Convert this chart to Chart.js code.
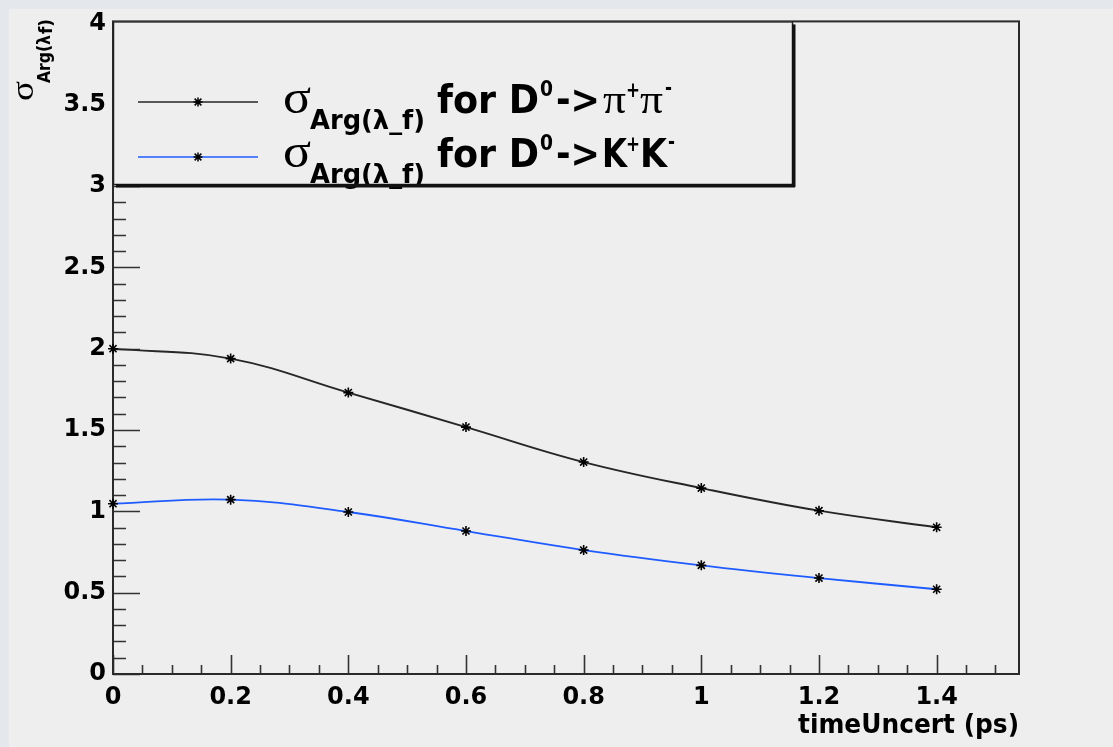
<!DOCTYPE html>
<html>
<head>
<meta charset="utf-8">
<script src="https://cdn.jsdelivr.net/npm/chart.js@4"></script>
<style>
    html, body { margin: 0; padding: 0; background: #eeeeee; }
    canvas { display: block; }
</style>
</head>
<body>
<canvas id="grafica" width="1113" height="747"></canvas>
<script>
// datos
const time_uncert = [0, 0.2, 0.4, 0.6, 0.8, 1.0, 1.2, 1.4];
const sigma_pipi = [2.0, 1.939, 1.73, 1.518, 1.303, 1.143, 1.004, 0.902];
const sigma_kk = [1.047, 1.072, 0.996, 0.879, 0.762, 0.668, 0.590, 0.521];

const x_ticks = [0, 0.2, 0.4, 0.6, 0.8, 1.0, 1.2, 1.4];
const x_tick_labels = ['0', '0.2', '0.4', '0.6', '0.8', '1', '1.2', '1.4'];
const y_ticks = [0, 0.5, 1, 1.5, 2, 2.5, 3, 3.5, 4];
const y_tick_labels = ['0', '0.5', '1', '1.5', '2', '2.5', '3', '3.5', '4'];

const sans_bold = '"DejaVu Sans", "Liberation Sans", sans-serif';
const serif = '"Liberation Serif", "DejaVu Serif", serif';

// texto ajustado a un ancho dado (el original esta estirado en horizontal)
function texto(ctx, s, x, y, ancho, font) {
    ctx.font = font;
    const w = ctx.measureText(s).width;
    ctx.save();
    ctx.translate(x, y);
    ctx.scale(ancho / w, 1);
    ctx.fillText(s, 0, 0);
    ctx.restore();
}

function estrella(ctx, x, y, r) {
    ctx.beginPath();
    ctx.moveTo(x - r, y); ctx.lineTo(x + r, y);
    ctx.moveTo(x, y - r); ctx.lineTo(x, y + r);
    const d = r * 0.75;
    ctx.moveTo(x - d, y - d); ctx.lineTo(x + d, y + d);
    ctx.moveTo(x - d, y + d); ctx.lineTo(x + d, y - d);
    ctx.stroke();
}

const fondo_plugin = {
    id: 'fondo',
    beforeDraw(chart) {
        const ctx = chart.ctx;
        ctx.save();
        ctx.fillStyle = '#eeeeee';
        ctx.fillRect(0, 0, chart.width, chart.height);
        ctx.fillStyle = '#e4e7eb';
        ctx.fillRect(0, 0, chart.width, 9);
        ctx.fillRect(0, 0, 9, chart.height);
        ctx.restore();
    }
};

// marco y marcas de estilo ROOT (hacia dentro)
const marco_plugin = {
    id: 'marco',
    beforeDatasetsDraw(chart) {
        const ctx = chart.ctx;
        const a = chart.chartArea;
        const xs = chart.scales.x;
        const ys = chart.scales.y;
        ctx.save();
        ctx.strokeStyle = '#333333';
        ctx.lineWidth = 1.6;
        ctx.beginPath();
        for (let i = 0; i <= 40; i++) {
            const py = Math.round(ys.getPixelForValue(i * 0.1)) + 0.5;
            const largo = (i % 5 === 0) ? 27 : 13;
            ctx.moveTo(a.left, py);
            ctx.lineTo(a.left + largo, py);
        }
        for (let i = 0; i <= 30; i++) {
            const px = Math.round(xs.getPixelForValue(i * 0.05)) + 0.5;
            const largo = (i % 4 === 0) ? 19 : 9;
            ctx.moveTo(px, a.bottom);
            ctx.lineTo(px, a.bottom - largo);
        }
        ctx.stroke();
        ctx.lineWidth = 2;
        ctx.strokeStyle = '#2a2a2a';
        ctx.strokeRect(a.left, a.top, a.right - a.left, a.bottom - a.top);
        ctx.restore();
    },
    afterDraw(chart) {
        const ctx = chart.ctx;
        const a = chart.chartArea;
        ctx.save();
        ctx.fillStyle = '#000000';
        ctx.textBaseline = 'alphabetic';

        // titulo eje x
        texto(ctx, 'timeUncert (ps)', 798, 733, a.right - 798, 'bold 27px ' + sans_bold);

        // titulo eje y (rotado)
        ctx.save();
        ctx.translate(0, 101);
        ctx.rotate(-Math.PI / 2);
        texto(ctx, 'σ', 0, 33, 20, '32px ' + serif);
        texto(ctx, 'Arg(λ', 18, 50, 48, 'bold 18px ' + sans_bold);
        texto(ctx, 'f)', 67, 52, 15, 'bold 18px ' + sans_bold);
        ctx.restore();

        // leyenda
        const lx0 = a.left, ly0 = a.top, lx1 = 792, ly1 = 184;
        ctx.fillStyle = '#eeeeee';
        ctx.fillRect(lx0, ly0, lx1 - lx0, ly1 - ly0);

        const filas = [
            { y: 102, color: chart.data.datasets[0].borderColor },
            { y: 157, color: chart.data.datasets[1].borderColor }
        ];
        filas.forEach(f => {
            ctx.strokeStyle = f.color;
            ctx.lineWidth = 1.6;
            ctx.beginPath();
            ctx.moveTo(138, f.y);
            ctx.lineTo(258, f.y);
            ctx.stroke();
            ctx.strokeStyle = '#000000';
            ctx.lineWidth = 1.5;
            estrella(ctx, 198, f.y, 4.5);
        });

        ctx.fillStyle = '#000000';
        const big = 'bold 39px ' + sans_bold;
        const sup = 'bold 21px ' + sans_bold;
        const sub = 'bold 27px ' + sans_bold;
        const pi = '42px ' + serif;
        // fila 1
        texto(ctx, 'σ', 283, 113, 28, '48px ' + serif);
        texto(ctx, 'Arg(λ_f)', 310, 129, 115, sub);
        texto(ctx, 'for D', 437, 113, 102, big);
        texto(ctx, '0', 540, 96, 13, sup);
        texto(ctx, '->', 556, 113, 44, big);
        texto(ctx, 'π', 603, 113, 23, pi);
        texto(ctx, '+', 626, 97, 14, sup);
        texto(ctx, 'π', 640, 113, 23, pi);
        texto(ctx, '-', 665, 95, 7, sup);
        // fila 2
        texto(ctx, 'σ', 283, 167, 28, '48px ' + serif);
        texto(ctx, 'Arg(λ_f)', 310, 183, 115, sub);
        texto(ctx, 'for D', 437, 167, 102, big);
        texto(ctx, '0', 540, 150, 13, sup);
        texto(ctx, '->', 556, 167, 44, big);
        texto(ctx, 'K', 602, 167, 25, big);
        texto(ctx, '+', 626, 151, 14, sup);
        texto(ctx, 'K', 640, 167, 27, big);
        texto(ctx, '-', 668, 149, 7, sup);

        // borde de la leyenda con sombra
        ctx.strokeStyle = '#222222';
        ctx.lineWidth = 1.5;
        ctx.strokeRect(lx0 + 0.5, ly0 + 0.5, lx1 - lx0, ly1 - ly0);
        ctx.fillStyle = '#111111';
        ctx.fillRect(lx0 + 3, ly1, lx1 - lx0, 3.5);
        ctx.fillRect(lx1, ly0 + 3, 3.5, ly1 - ly0);
        ctx.restore();
    }
};

const ctx = document.getElementById('grafica').getContext('2d');

const grafica = new Chart(ctx, {
    type: 'line',
    data: {
        datasets: [{
            label: 'pipi',
            data: time_uncert.map((t, i) => ({ x: t, y: sigma_pipi[i] })),
            borderColor: '#262626',
            borderWidth: 1.9,
            tension: 0.4,
            pointStyle: 'star',
            pointRadius: 5,
            pointBorderColor: '#000000',
            pointBorderWidth: 1.6,
            pointBackgroundColor: '#000000',
            clip: false
        }, {
            label: 'kk',
            data: time_uncert.map((t, i) => ({ x: t, y: sigma_kk[i] })),
            borderColor: '#1f5cff',
            borderWidth: 1.8,
            tension: 0.4,
            pointStyle: 'star',
            pointRadius: 5,
            pointBorderColor: '#000000',
            pointBorderWidth: 1.6,
            pointBackgroundColor: '#000000',
            clip: false
        }]
    },
    options: {
        responsive: false,
        animation: false,
        devicePixelRatio: 1,
        layout: {
            padding: { top: 21, right: 94, left: 0, bottom: 0 }
        },
        plugins: {
            legend: { display: false },
            tooltip: { enabled: false }
        },
        scales: {
            x: {
                type: 'linear',
                min: 0,
                max: 1.54,
                grid: { display: false, drawTicks: false },
                border: { display: false },
                afterBuildTicks: (scale) => { scale.ticks = x_ticks.map(v => ({ value: v })); },
                afterFit: (scale) => { scale.height = 73; },
                ticks: {
                    padding: 9,
                    color: '#000000',
                    maxRotation: 0,
                    autoSkip: false,
                    font: { family: sans_bold, weight: 'bold', size: 24 },
                    callback: (value) => x_tick_labels[x_ticks.indexOf(value)] ?? ''
                }
            },
            y: {
                type: 'linear',
                min: 0,
                max: 4.012,
                grid: { display: false, drawTicks: false },
                border: { display: false },
                afterBuildTicks: (scale) => { scale.ticks = y_ticks.map(v => ({ value: v })); },
                afterFit: (scale) => { scale.width = 113; },
                ticks: {
                    padding: 7,
                    color: '#000000',
                    autoSkip: false,
                    font: { family: sans_bold, weight: 'bold', size: 24 },
                    callback: (value) => y_tick_labels[y_ticks.indexOf(value)] ?? ''
                }
            }
        }
    },
    plugins: [fondo_plugin, marco_plugin]
});
</script>
</body>
</html>
